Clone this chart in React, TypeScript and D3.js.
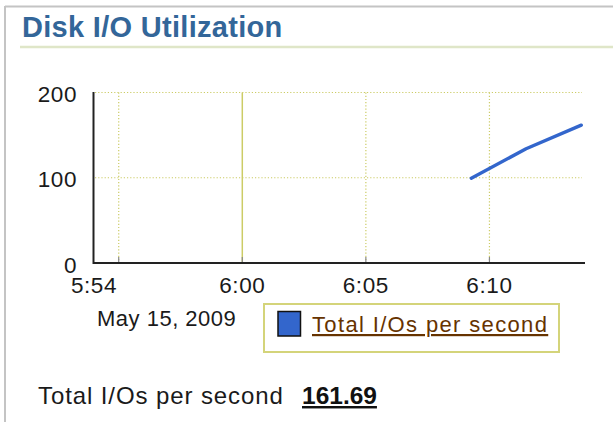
import React from "react";
import * as d3 from "d3";

const yTicks = [0, 100, 200];
const xLabelTimes = ["05:54:00", "06:00:00", "06:05:00", "06:10:00"];
const xLabels = ["5:54", "6:00", "6:05", "6:10"];
const gridTimes = ["05:55:00", "06:00:00", "06:05:00", "06:10:00"];
const solidGrid = [false, true, false, false];
const sampleTimes = ["06:09:16", "06:11:29", "06:13:43"];
const ioValues = [99.5, 134, 161.69];
const domainTimes = ["05:54:00", "06:13:52"];
const dateLabel = "May 15, 2009";
const seriesName = "Total I/Os per second";
const currentValue = "161.69";
const title = "Disk I/O Utilization";

const parse = d3.timeParse("%H:%M:%S");

export default function App() {
  const x = d3
    .scaleTime()
    .domain(domainTimes.map((t) => parse(t) as Date))
    .range([94, 585]);
  const y = d3.scaleLinear().domain([0, 200]).range([263, 92.5]);
  const line = d3
    .line<number>()
    .x((_, i) => x(parse(sampleTimes[i]) as Date))
    .y((d) => y(d));

  const font = "'Liberation Sans', Arial, sans-serif";
  const gridColor = "#cccc66";

  return (
    <svg
      width={613}
      height={422}
      style={{ position: "absolute", left: 0, top: 0, background: "#fff" }}
      fontFamily={font}
    >
      {/* panel borders */}
      <line x1={5} y1={6.5} x2={613} y2={6.5} stroke="#c4c4c4" strokeWidth={2} />
      <line x1={5} y1={6} x2={5} y2={422} stroke="#c4c4c4" strokeWidth={2} />
      {/* title */}
      <text x={22} y={37} fontSize={29} fontWeight="bold" fill="#336699" letterSpacing={0.3}>
        {title}
      </text>
      <line x1={20} y1={47} x2={613} y2={47} stroke="#dfe6c8" strokeWidth={2.5} />

      {/* horizontal grid */}
      {yTicks
        .filter((v) => v > 0)
        .map((v) => (
          <line
            key={"h" + v}
            x1={95}
            x2={582}
            y1={y(v)}
            y2={y(v)}
            stroke={gridColor}
            strokeWidth={1.2}
            strokeDasharray="1.2,2"
          />
        ))}
      {/* vertical grid */}
      {gridTimes.map((t, i) => {
        const xv = x(parse(t) as Date);
        return (
          <g key={"v" + t}>
            <line
              x1={xv}
              x2={xv}
              y1={y(200)}
              y2={y(0)}
              stroke={gridColor}
              strokeWidth={solidGrid[i] ? 1.5 : 1.2}
              strokeDasharray={solidGrid[i] ? undefined : "1.2,2"}
            />
            <line x1={xv} x2={xv} y1={y(0) - 6} y2={y(0)} stroke="#888" strokeWidth={1.2} />
          </g>
        );
      })}

      {/* axes */}
      <line x1={93.5} x2={93.5} y1={y(200) - 0.5} y2={y(0) + 1} stroke="#222" strokeWidth={2} />
      <line x1={93} x2={585} y1={y(0)} y2={y(0)} stroke="#222" strokeWidth={2} />

      {/* y labels */}
      {yTicks.map((v) => (
        <text key={"yl" + v} x={77} y={y(v) + 9.5} fontSize={22.5} textAnchor="end" fill="#1a1a1a" letterSpacing={0.6}>
          {v}
        </text>
      ))}
      {/* x labels */}
      {xLabelTimes.map((t, i) => (
        <text
          key={"xl" + t}
          x={x(parse(t) as Date)}
          y={293}
          fontSize={22.5}
          textAnchor="middle"
          fill="#1a1a1a"
          letterSpacing={0.6}
        >
          {xLabels[i]}
        </text>
      ))}
      <text x={97} y={326} fontSize={22} fill="#1a1a1a" letterSpacing={0.5}>
        {dateLabel}
      </text>

      {/* series */}
      <path d={line(ioValues) || ""} fill="none" stroke="#3366cc" strokeWidth={3.4} strokeLinecap="round" strokeLinejoin="round" />

      {/* legend */}
      <rect x={264} y={304} width={295} height={48} fill="#fff" stroke="#d4d47a" strokeWidth={2} />
      <rect x={278} y={311.5} width={22.5} height={24.5} fill="#3366cc" stroke="#111" strokeWidth={1.5} />
      <text x={312} y={332} fontSize={22} fill="#663300" textDecoration="underline" letterSpacing={1.35}>
        {seriesName}
      </text>

      {/* current value */}
      <text x={38} y={404} fontSize={24} fontWeight="500" fill="#1a1a1a" letterSpacing={0.9}>
        {seriesName}
      </text>
      <text x={302} y={404} fontSize={24.5} fontWeight="bold" fill="#111" textDecoration="underline">
        {currentValue}
      </text>
    </svg>
  );
}
